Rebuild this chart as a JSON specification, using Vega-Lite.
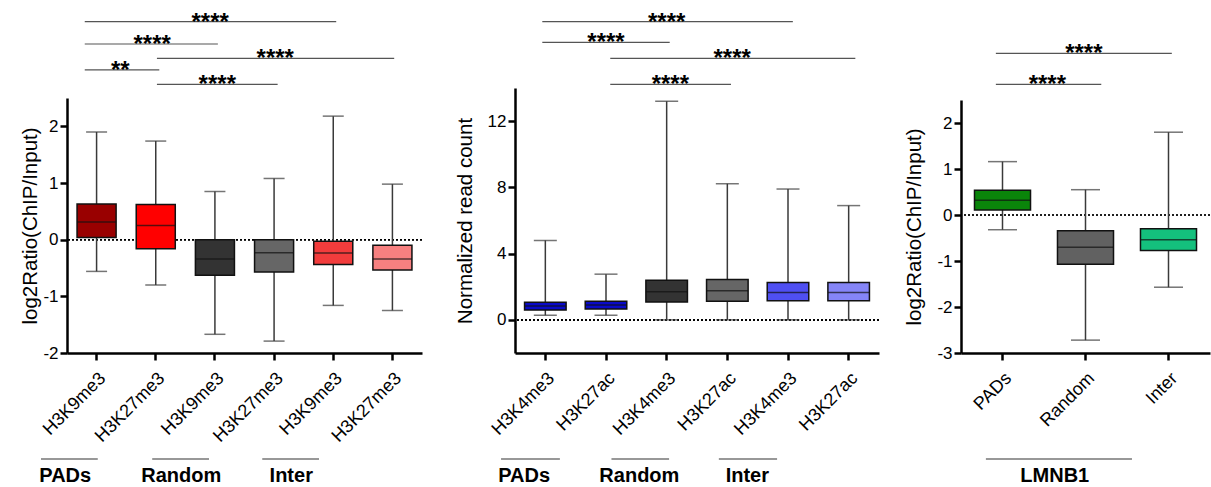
{
  "$schema": "https://vega.github.io/schema/vega-lite/v6.json",
  "padding": {"left": 20, "top": 0, "right": 0, "bottom": 0},
  "autosize": {"type": "pad"},
  "background": "white",
  "config": {
    "font": "Liberation Sans",
    "view": {"stroke": null},
    "axis": {
      "grid": false, "domainColor": "#000", "domainWidth": 2.5, "tickColor": "#000", "tickWidth": 2.5, "tickSize": 7,
      "labelFont": "Liberation Sans", "labelFontSize": 18, "labelColor": "#000", "labelPadding": 2, "labelOverlap": false,
      "titleFont": "Liberation Sans", "titleFontSize": 20.5, "titleFontWeight": "normal", "titleColor": "#000"
    },
    "axisY": {"labelFontSize": 17},
    "axisX": {"labelPadding": 9}
  },
  "datasets": {
    "p1": [
      {"sample": "PADs|H3K9me3", "min": -0.56, "q1": 0.04, "median": 0.31, "q3": 0.63, "max": 1.9},
      {"sample": "PADs|H3K27me3", "min": -0.8, "q1": -0.16, "median": 0.25, "q3": 0.62, "max": 1.74},
      {"sample": "Random|H3K9me3", "min": -1.67, "q1": -0.63, "median": -0.34, "q3": 0.0, "max": 0.85},
      {"sample": "Random|H3K27me3", "min": -1.79, "q1": -0.57, "median": -0.23, "q3": 0.0, "max": 1.08},
      {"sample": "Inter|H3K9me3", "min": -1.16, "q1": -0.44, "median": -0.235, "q3": -0.03, "max": 2.18},
      {"sample": "Inter|H3K27me3", "min": -1.25, "q1": -0.535, "median": -0.34, "q3": -0.1, "max": 0.98}
    ],
    "p2": [
      {"sample": "PADs|H3K4me3", "min": 0.28, "q1": 0.6, "median": 0.84, "q3": 1.06, "max": 4.8},
      {"sample": "PADs|H3K27ac", "min": 0.28, "q1": 0.66, "median": 0.9, "q3": 1.12, "max": 2.76},
      {"sample": "Random|H3K4me3", "min": 0.0, "q1": 1.08, "median": 1.7, "q3": 2.4, "max": 13.2},
      {"sample": "Random|H3K27ac", "min": 0.0, "q1": 1.12, "median": 1.76, "q3": 2.44, "max": 8.22},
      {"sample": "Inter|H3K4me3", "min": 0.0, "q1": 1.16, "median": 1.66, "q3": 2.26, "max": 7.9},
      {"sample": "Inter|H3K27ac", "min": 0.0, "q1": 1.16, "median": 1.66, "q3": 2.26, "max": 6.9}
    ],
    "p3": [
      {"sample": "PADs", "min": -0.32, "q1": 0.11, "median": 0.32, "q3": 0.54, "max": 1.16},
      {"sample": "Random", "min": -2.72, "q1": -1.07, "median": -0.7, "q3": -0.34, "max": 0.55},
      {"sample": "Inter", "min": -1.57, "q1": -0.77, "median": -0.54, "q3": -0.3, "max": 1.8}
    ],
    "b1": [
      {"from": 0.8, "to": 5.05, "mid": 2.92, "level": 4.49, "stars": "****"},
      {"from": 0.8, "to": 3.05, "mid": 1.94, "level": 2.93, "stars": "****"},
      {"from": 2.02, "to": 6.03, "mid": 4.02, "level": 1.93, "stars": "****"},
      {"from": 0.8, "to": 2.06, "mid": 1.4, "level": 1.12, "stars": "**"},
      {"from": 2.02, "to": 4.06, "mid": 3.04, "level": 0.12, "stars": "****"}
    ],
    "b2": [
      {"from": 0.95, "to": 5.08, "mid": 3.0, "level": 4.49, "stars": "****"},
      {"from": 0.95, "to": 3.05, "mid": 2.0, "level": 3.05, "stars": "****"},
      {"from": 2.07, "to": 6.11, "mid": 4.08, "level": 1.93, "stars": "****"},
      {"from": 2.07, "to": 4.06, "mid": 3.06, "level": 0.12, "stars": "****"}
    ],
    "b3": [
      {"from": 0.92, "to": 3.04, "mid": 1.98, "level": 2.28, "stars": "****"},
      {"from": 0.92, "to": 2.19, "mid": 1.54, "level": 0.12, "stars": "****"}
    ],
    "g1": [
      {"group": "PADs", "from": 0.06, "to": 1.02, "mid": 0.47},
      {"group": "Random", "from": 1.94, "to": 2.9, "mid": 2.43},
      {"group": "Inter", "from": 3.8, "to": 4.76, "mid": 4.29}
    ],
    "g2": [
      {"group": "PADs", "from": 0.27, "to": 1.24, "mid": 0.65},
      {"group": "Random", "from": 2.09, "to": 3.04, "mid": 2.55},
      {"group": "Inter", "from": 3.86, "to": 4.82, "mid": 4.33}
    ],
    "g3": [
      {"group": "LMNB1", "from": 0.8, "to": 2.56, "mid": 1.63}
    ]
  },
  "spacing": 32,
  "resolve": {"scale": {"x": "independent", "y": "independent", "color": "independent"}},
  "hconcat": [
    {
      "spacing": 12,
      "bounds": "flush",
      "resolve": {"scale": {"x": "independent", "y": "independent", "color": "independent"}},
      "vconcat": [
        {
          "data": {"name": "b1"}, "width": 355, "height": 86,
          "layer": [
            {"mark": {"type": "rule", "color": "#555", "strokeWidth": 1.2},
             "encoding": {
               "x": {"field": "from", "type": "quantitative", "scale": {"domain": [0.5, 6.5], "nice": false, "zero": false}, "axis": null},
               "x2": {"field": "to"},
               "y": {"field": "level", "type": "quantitative", "scale": {"domain": [0, 6], "nice": false, "zero": false}, "axis": null}}},
            {"mark": {"type": "text", "fontSize": 24, "fontWeight": "bold", "baseline": "alphabetic", "dy": 8, "color": "#000"},
             "encoding": {
               "x": {"field": "mid", "type": "quantitative"},
               "y": {"field": "level", "type": "quantitative"},
               "text": {"field": "stars"}}}
          ]
        },
        {
          "data": {"name": "p1"}, "width": 355, "height": 255,
          "layer": [
            {"mark": {"type": "rule", "strokeDash": [2, 2], "color": "#000", "strokeWidth": 1.2},
             "encoding": {"y": {"datum": 0, "type": "quantitative"}}},
            {"mark": {"type": "rule", "color": "#3a3a3a", "strokeWidth": 1.5},
             "encoding": {
               "x": {"field": "sample", "type": "nominal", "sort": null,
                     "scale": {"domain": ["PADs|H3K9me3", "PADs|H3K27me3", "Random|H3K9me3", "Random|H3K27me3", "Inter|H3K9me3", "Inter|H3K27me3"], "paddingInner": 0.34, "paddingOuter": 0.17},
                     "axis": {"title": null, "labelAngle": -45, "labelExpr": "split(datum.label, '|')[1]"}},
               "y": {"field": "min", "type": "quantitative", "scale": {"domain": [-2, 2.5], "nice": false, "zero": false},
                     "axis": {"title": "log2Ratio(ChIP/Input)", "values": [-2, -1, 0, 1, 2], "titlePadding": 2, "labelExpr": "'' + datum.value"}},
               "y2": {"field": "max"}}},
            {"mark": {"type": "tick", "orient": "horizontal", "size": 21, "thickness": 1.5, "color": "#3a3a3a"},
             "encoding": {"x": {"field": "sample", "type": "nominal", "sort": null}, "y": {"field": "min", "type": "quantitative"}}},
            {"mark": {"type": "tick", "orient": "horizontal", "size": 21, "thickness": 1.5, "color": "#3a3a3a"},
             "encoding": {"x": {"field": "sample", "type": "nominal", "sort": null}, "y": {"field": "max", "type": "quantitative"}}},
            {"mark": {"type": "bar", "width": {"band": 1}, "stroke": "#111", "strokeWidth": 1.5},
             "encoding": {"x": {"field": "sample", "type": "nominal", "sort": null}, "y": {"field": "q1", "type": "quantitative"}, "y2": {"field": "q3"},
               "color": {"field": "sample", "type": "nominal", "legend": null,
                         "scale": {"domain": ["PADs|H3K9me3", "PADs|H3K27me3", "Random|H3K9me3", "Random|H3K27me3", "Inter|H3K9me3", "Inter|H3K27me3"],
                                   "range": ["#990000", "#ff0000", "#333333", "#666666", "#f23c3c", "#f78080"]}}}},
            {"mark": {"type": "tick", "orient": "horizontal", "size": 39, "thickness": 1.5, "color": "#111"},
             "encoding": {"x": {"field": "sample", "type": "nominal", "sort": null}, "y": {"field": "median", "type": "quantitative"}}}
          ]
        },
        {
          "data": {"name": "g1"}, "width": 355, "height": 188,
          "layer": [
            {"mark": {"type": "rule", "color": "#333", "strokeWidth": 1.2},
             "encoding": {"x": {"field": "from", "type": "quantitative", "scale": {"domain": [0.5, 6.5], "nice": false, "zero": false}, "axis": null}, "x2": {"field": "to"}}},
            {"mark": {"type": "text", "fontSize": 20, "fontWeight": "bold", "baseline": "alphabetic", "dy": 23, "color": "#000"},
             "encoding": {"x": {"field": "mid", "type": "quantitative"}, "text": {"field": "group"}}}
          ]
        }
      ]
    },
    {
      "spacing": 24,
      "resolve": {"scale": {"x": "independent", "y": "independent", "color": "independent"}},
      "hconcat": [
        {
          "spacing": 2,
          "bounds": "flush",
          "resolve": {"scale": {"x": "independent", "y": "independent", "color": "independent"}},
          "vconcat": [
            {
              "data": {"name": "b2"}, "width": 364, "height": 86,
              "layer": [
                {"mark": {"type": "rule", "color": "#555", "strokeWidth": 1.2},
                 "encoding": {
                   "x": {"field": "from", "type": "quantitative", "scale": {"domain": [0.5, 6.5], "nice": false, "zero": false}, "axis": null},
                   "x2": {"field": "to"},
                   "y": {"field": "level", "type": "quantitative", "scale": {"domain": [0, 6], "nice": false, "zero": false}, "axis": null}}},
                {"mark": {"type": "text", "fontSize": 24, "fontWeight": "bold", "baseline": "alphabetic", "dy": 8, "color": "#000"},
                 "encoding": {
                   "x": {"field": "mid", "type": "quantitative"},
                   "y": {"field": "level", "type": "quantitative"},
                   "text": {"field": "stars"}}}
              ]
            },
            {
              "data": {"name": "p2"}, "width": 364, "height": 265,
              "layer": [
                {"mark": {"type": "rule", "strokeDash": [2, 2], "color": "#000", "strokeWidth": 1.2},
                 "encoding": {"y": {"datum": 0, "type": "quantitative"}}},
                {"mark": {"type": "rule", "color": "#3a3a3a", "strokeWidth": 1.5},
                 "encoding": {
                   "x": {"field": "sample", "type": "nominal", "sort": null,
                         "scale": {"domain": ["PADs|H3K4me3", "PADs|H3K27ac", "Random|H3K4me3", "Random|H3K27ac", "Inter|H3K4me3", "Inter|H3K27ac"], "paddingInner": 0.315, "paddingOuter": 0.1575},
                         "axis": {"title": null, "labelAngle": -45, "labelExpr": "split(datum.label, '|')[1]"}},
                   "y": {"field": "min", "type": "quantitative", "scale": {"domain": [-2, 14], "nice": false, "zero": false},
                         "axis": {"title": "Normalized read count", "values": [0, 4, 8, 12], "titlePadding": 12, "labelExpr": "'' + datum.value"}},
                   "y2": {"field": "max"}}},
                {"mark": {"type": "tick", "orient": "horizontal", "size": 23, "thickness": 1.5, "color": "#3a3a3a"},
                 "encoding": {"x": {"field": "sample", "type": "nominal", "sort": null}, "y": {"field": "min", "type": "quantitative"}}},
                {"mark": {"type": "tick", "orient": "horizontal", "size": 23, "thickness": 1.5, "color": "#3a3a3a"},
                 "encoding": {"x": {"field": "sample", "type": "nominal", "sort": null}, "y": {"field": "max", "type": "quantitative"}}},
                {"mark": {"type": "bar", "width": {"band": 1}, "stroke": "#111", "strokeWidth": 1.5},
                 "encoding": {"x": {"field": "sample", "type": "nominal", "sort": null}, "y": {"field": "q1", "type": "quantitative"}, "y2": {"field": "q3"},
                   "color": {"field": "sample", "type": "nominal", "legend": null,
                             "scale": {"domain": ["PADs|H3K4me3", "PADs|H3K27ac", "Random|H3K4me3", "Random|H3K27ac", "Inter|H3K4me3", "Inter|H3K27ac"],
                                       "range": ["#0a0ac8", "#0a0ac8", "#333333", "#666666", "#4f4ff2", "#8585f7"]}}}},
                {"mark": {"type": "tick", "orient": "horizontal", "size": 41.5, "thickness": 1.5, "color": "#111"},
                 "encoding": {"x": {"field": "sample", "type": "nominal", "sort": null}, "y": {"field": "median", "type": "quantitative"}}}
              ]
            },
            {
              "data": {"name": "g2"}, "width": 364, "height": 208,
              "layer": [
                {"mark": {"type": "rule", "color": "#333", "strokeWidth": 1.2},
                 "encoding": {"x": {"field": "from", "type": "quantitative", "scale": {"domain": [0.5, 6.5], "nice": false, "zero": false}, "axis": null}, "x2": {"field": "to"}}},
                {"mark": {"type": "text", "fontSize": 20, "fontWeight": "bold", "baseline": "alphabetic", "dy": 23, "color": "#000"},
                 "encoding": {"x": {"field": "mid", "type": "quantitative"}, "text": {"field": "group"}}}
              ]
            }
          ]
        },
        {
          "spacing": 14,
          "bounds": "flush",
          "resolve": {"scale": {"x": "independent", "y": "independent", "color": "independent"}},
          "vconcat": [
            {
              "data": {"name": "b3"}, "width": 249, "height": 86,
              "layer": [
                {"mark": {"type": "rule", "color": "#555", "strokeWidth": 1.2},
                 "encoding": {
                   "x": {"field": "from", "type": "quantitative", "scale": {"domain": [0.5, 3.5], "nice": false, "zero": false}, "axis": null},
                   "x2": {"field": "to"},
                   "y": {"field": "level", "type": "quantitative", "scale": {"domain": [0, 6], "nice": false, "zero": false}, "axis": null}}},
                {"mark": {"type": "text", "fontSize": 24, "fontWeight": "bold", "baseline": "alphabetic", "dy": 8, "color": "#000"},
                 "encoding": {
                   "x": {"field": "mid", "type": "quantitative"},
                   "y": {"field": "level", "type": "quantitative"},
                   "text": {"field": "stars"}}}
              ]
            },
            {
              "data": {"name": "p3"}, "width": 249, "height": 253,
              "layer": [
                {"mark": {"type": "rule", "strokeDash": [2, 2], "color": "#000", "strokeWidth": 1.2},
                 "encoding": {"y": {"datum": 0, "type": "quantitative"}}},
                {"mark": {"type": "rule", "color": "#3a3a3a", "strokeWidth": 1.5},
                 "encoding": {
                   "x": {"field": "sample", "type": "nominal", "sort": null,
                         "scale": {"domain": ["PADs", "Random", "Inter"], "paddingInner": 0.325, "paddingOuter": 0.1625},
                         "axis": {"title": null, "labelAngle": -45}},
                   "y": {"field": "min", "type": "quantitative", "scale": {"domain": [-3, 2.5], "nice": false, "zero": false},
                         "axis": {"title": "log2Ratio(ChIP/Input)", "values": [-3, -2, -1, 0, 1, 2], "titlePadding": 12, "labelExpr": "'' + datum.value"}},
                   "y2": {"field": "max"}}},
                {"mark": {"type": "tick", "orient": "horizontal", "size": 29, "thickness": 1.5, "color": "#3a3a3a"},
                 "encoding": {"x": {"field": "sample", "type": "nominal", "sort": null}, "y": {"field": "min", "type": "quantitative"}}},
                {"mark": {"type": "tick", "orient": "horizontal", "size": 29, "thickness": 1.5, "color": "#3a3a3a"},
                 "encoding": {"x": {"field": "sample", "type": "nominal", "sort": null}, "y": {"field": "max", "type": "quantitative"}}},
                {"mark": {"type": "bar", "width": {"band": 1}, "stroke": "#111", "strokeWidth": 1.5},
                 "encoding": {"x": {"field": "sample", "type": "nominal", "sort": null}, "y": {"field": "q1", "type": "quantitative"}, "y2": {"field": "q3"},
                   "color": {"field": "sample", "type": "nominal", "legend": null,
                             "scale": {"domain": ["PADs", "Random", "Inter"], "range": ["#0a850a", "#616161", "#14c07d"]}}}},
                {"mark": {"type": "tick", "orient": "horizontal", "size": 56, "thickness": 1.5, "color": "#111"},
                 "encoding": {"x": {"field": "sample", "type": "nominal", "sort": null}, "y": {"field": "median", "type": "quantitative"}}}
              ]
            },
            {
              "data": {"name": "g3"}, "width": 249, "height": 184,
              "layer": [
                {"mark": {"type": "rule", "color": "#333", "strokeWidth": 1.2},
                 "encoding": {"x": {"field": "from", "type": "quantitative", "scale": {"domain": [0.5, 3.5], "nice": false, "zero": false}, "axis": null}, "x2": {"field": "to"}}},
                {"mark": {"type": "text", "fontSize": 20, "fontWeight": "bold", "baseline": "alphabetic", "dy": 23, "color": "#000"},
                 "encoding": {"x": {"field": "mid", "type": "quantitative"}, "text": {"field": "group"}}}
              ]
            }
          ]
        }
      ]
    }
  ]
}
